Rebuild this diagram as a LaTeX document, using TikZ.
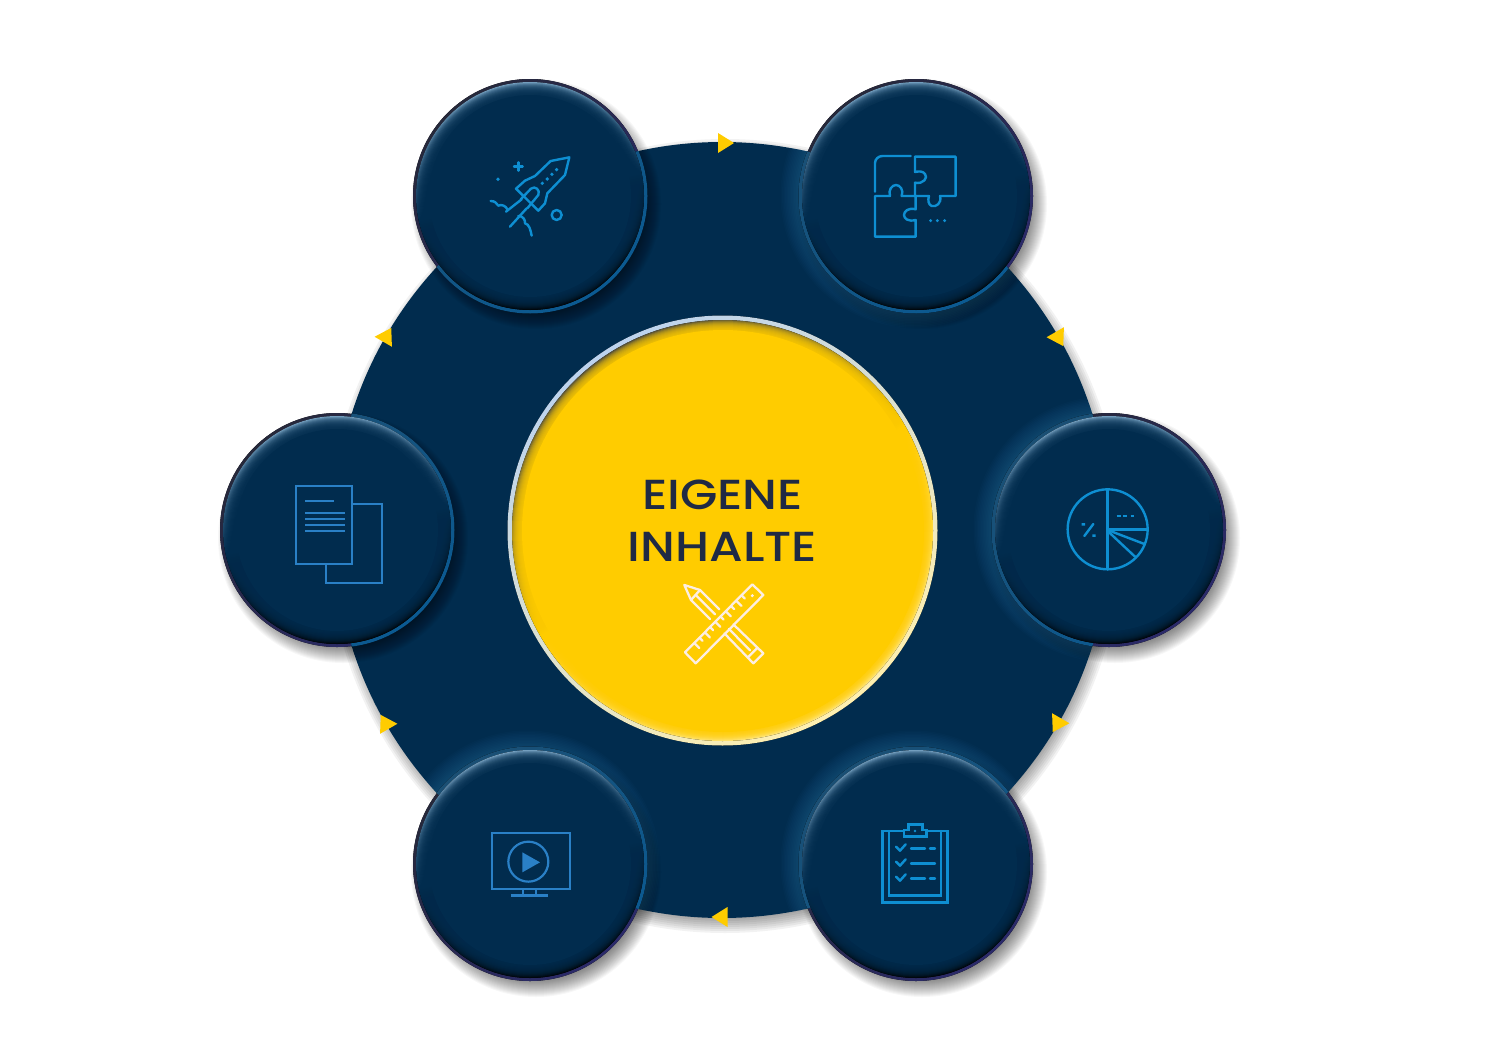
\documentclass[tikz,border=0pt]{standalone}
\usepackage{fontspec}
\newfontfamily\labelfont[FakeStretch=1.15]{Poppins Medium}
\definecolor{navy}{HTML}{012C4E}
\definecolor{sun}{HTML}{FFCC00}
\definecolor{inktext}{HTML}{1F2A44}
\definecolor{rimdark}{HTML}{26283A}
\definecolor{rimpurple}{HTML}{2B2A6A}
\definecolor{rimblue}{HTML}{0B5A92}
\definecolor{rimfaint}{HTML}{1A4F74}
\definecolor{glowblue}{HTML}{2A7FAE}
\definecolor{iconsky}{HTML}{0E8FD2}
\definecolor{iconblue}{HTML}{2A80C6}
\definecolor{chalk}{HTML}{FDEEE2}
\definecolor{HighTone}{HTML}{7DA8C8}
\definecolor{HubLight}{HTML}{BCD3EE}
\definecolor{HubWarm}{HTML}{FFF0B0}
\definecolor{HubShade}{HTML}{5A5438}
\definecolor{HubGlow}{HTML}{FFEC9A}
\tikzset{
  iconline/.style={draw=iconsky,line width=2.4pt,line cap=round,line join=round},
  iconflat/.style={draw=iconblue,line width=2.2pt,line cap=butt,line join=miter},
  chalkline/.style={draw=chalk,line width=2.3pt,line cap=round,line join=round},
  zoomed/.style={x=0.3333pt,y=-0.3333pt},
  marker/.style={fill=sun},
}
\newcommand{\softshadow}[5]{% cx cy r-start steps opacity
  \foreach \k in {0,...,#4}{\fill[black,fill opacity=#5] (#1,#2) circle [radius=#3+\k];}
}
\newcommand{\bigclip}{\clip (722,530) circle [radius=388];}
\newcommand{\discbody}[3]{% cx cy glow(0/1)
  \softshadow{#1+6}{#2+8}{101}{24}{0.03}
  \fill[top color=rimdark,bottom color=rimpurple,shading angle=45] (#1,#2) circle [radius=117];
  \begin{scope}
    \bigclip
    \ifnum#3=1
      \foreach \k in {0,...,11}{\fill[glowblue,even odd rule,fill opacity=0.035] (#1-3,#2-1) circle [radius=116+\k*1.5] (#1,#2) circle [radius=114];}
    \fi
    \fill[top color=rimfaint,bottom color=rimblue,shading angle=40] (#1,#2) circle [radius=117.5];
  \end{scope}
  \fill[top color=HighTone,bottom color=black!90!navy,middle color=navy,shading angle=12] (#1,#2) circle [radius=114];
  \foreach \k in {0,...,11}{\fill[navy,fill opacity=0.2] (#1,#2) circle [radius=113.5-\k];}
  \fill[navy] (#1,#2) circle [radius=101];
}
\newcommand{\marktip}[3]{%
  \fill[marker,shift={(#1,#2)},rotate=#3] (-5.5,-10) -- (10.5,0) -- (-5.5,10) -- cycle;
}
\begin{document}
\begin{tikzpicture}[x=1pt,y=-1pt]
\useasboundingbox (0,0) rectangle (1500,1060);
\fill[white] (0,0) rectangle (1500,1060);
% ring plate
\foreach \k in {0,...,9}{\fill[black,fill opacity=0.05] (725,536) circle [radius=379+\k*2];}
\fill[navy] (722,530) circle [radius=388];
% satellites
\discbody{530}{196}{0}
\discbody{916}{196}{1}
\discbody{1109}{530}{1}
\discbody{916}{864}{1}
\discbody{530}{864}{1}
\discbody{337}{530}{0}
% direction markers
\marktip{723.5}{143}{0}
\marktip{1058}{337}{-60}
\marktip{1058}{723}{-120}
\marktip{722}{917}{180}
\marktip{386}{724}{120}
\marktip{386}{337}{60}
% centre
\fill[top color=HubLight,bottom color=HubWarm,shading angle=35] (722.5,530.5) circle [radius=215];
\fill[top color=HubShade,bottom color=HubGlow,middle color=sun,shading angle=30] (722.5,530.5) circle [radius=210.5];
\foreach \k in {0,...,8}{\fill[sun,fill opacity=0.2] (723,531) circle [radius=210-\k];}
\fill[sun] (723,531) circle [radius=201];
\node[font=\labelfont\fontsize{42}{42}\selectfont,text=inktext,inner sep=0pt] (line1) at (722.5,494.5) {EIGENE};
\node[font=\labelfont\fontsize{42}{42}\selectfont,text=inktext,inner sep=0pt] (line2) at (722.5,546.5) {INHALTE};
% pencil and ruler
\begin{scope}[shift={(675,575)},zoomed]
  \draw[chalkline] (232,28) -- (265,60) -- (62,265) -- (30,232) -- cycle;
  \fill[chalk] (232,62) circle [radius=5];
  \foreach \a/\l in {0/1,1/0,2/1,3/0,4/1,5/0,6/1,7/0,8/1,9/0}{
    \pgfmathsetmacro{\tx}{58+\a*15.8}
    \pgfmathsetmacro{\ty}{204-\a*15.8}
    \pgfmathsetmacro{\ln}{\l==1?15:9}
    \draw[chalkline] (\tx,\ty) -- (\tx+\ln,\ty+\ln);
  }
  \draw[chalkline] (105,132) -- (48,75) -- (28,30) -- (75,45) -- (133,103);
  \draw[chalkline] (48,75) -- (75,45);
  \draw[chalkline] (62,60) -- (120,118);
  \draw[chalkline] (175,148) -- (265,235) -- (235,265) -- (148,175);
  \draw[chalkline] (162,162) -- (225,226);
  \draw[chalkline] (218,248) -- (248,218);
\end{scope}
% rocket
\begin{scope}[shift={(470,140)},zoomed]
  \draw[iconline] (298,52) -- (242,63) -- (195,108) -- (165,122) -- (138,146) -- (205,212) -- (225,190) -- (232,160) -- (285,105) -- cycle;
  \draw[iconline] (152,178) -- (183,146) .. controls (195,136) and (212,150) .. (205,165) -- (172,205);
  \draw[iconline] (108,215) -- (155,178);
  \draw[iconline] (120,260) -- (170,205);
  \draw[iconline] (62,183) .. controls (75,183) and (80,190) .. (85,197) .. controls (95,192) and (108,198) .. (112,208);
  \draw[iconline] (145,228) .. controls (160,228) and (166,240) .. (165,250) .. controls (178,252) and (182,272) .. (185,287);
  \foreach \p in {(217,130),(232,117),(246,103),(260,89),(84,118)}{\fill[iconsky] \p circle [radius=5.5];}
  \draw[iconline] (145,67) -- (145,92) (132,80) -- (158,80);
  \draw[iconline] (260,225) circle [radius=15];
\end{scope}
% puzzle
\begin{scope}[shift={(860,140)},zoomed]
  \draw[iconline] (45,155) -- (45,70) .. controls (45,57) and (55,48) .. (68,48) -- (152,48);
  \draw[iconline,line cap=butt] (165,168) -- (165,128) .. controls (190,134) and (205,112) .. (195,102) .. controls (188,92) and (175,94) .. (165,96) -- (165,50) -- (287,50) -- (287,168) -- (240,168) .. controls (246,190) and (228,202) .. (215,198) .. controls (205,194) and (203,180) .. (207,168) -- cycle;
  \draw[iconline,line cap=butt] (45,168) -- (90,168) .. controls (84,150) and (96,135) .. (108,135) .. controls (120,135) and (132,150) .. (125,168) -- (167,168) -- (167,208) .. controls (145,202) and (132,214) .. (132,225) .. controls (132,236) and (145,246) .. (167,240) -- (167,290) -- (45,290) -- cycle;
  \foreach \p in {(212,242),(232,242),(254,242)}{\fill[iconsky] \p circle [radius=5];}
\end{scope}
% pie
\begin{scope}[shift={(1055,475)},zoomed]
  \draw[iconline] (158,163) circle [radius=120];
  \draw[iconline] (158,45) -- (158,283);
  \draw[iconline] (158,163) -- (278,163);
  \draw[iconline] (158,165) -- (268,207);
  \draw[iconline] (158,168) -- (240,245);
  \draw[iconline,line cap=butt] (185,123) -- (197,123) (205,123) -- (217,123) (227,123) -- (238,123);
  \draw[iconline] (88,183) -- (115,147);
  \fill[iconsky] (80,144) rectangle (90,152) (112,178) rectangle (122,186);
\end{scope}
% clipboard
\begin{scope}[shift={(865,815)},zoomed]
  \draw[iconline,line join=miter] (117,48) -- (52,48) -- (52,263) -- (248,263) -- (248,48) -- (185,48);
  \draw[iconline,line join=miter] (72,48) -- (72,241) -- (228,241) -- (228,48);
  \draw[iconline,line join=miter] (117,65) -- (117,45) -- (130,45) -- (130,28) -- (172,28) -- (172,45) -- (185,45) -- (185,65) -- cycle;
  \fill[iconsky] (150,48) circle [radius=4];
  \foreach \y in {0,45,90}{
    \draw[iconline] (93,95+\y) -- (105,107+\y) -- (122,88+\y);
  }
  \draw[iconline] (138,100) -- (180,100) (195,100) -- (210,100);
  \draw[iconline] (138,145) -- (210,145);
  \draw[iconline] (138,190) -- (180,190) (195,190) -- (210,190);
\end{scope}
% monitor
\begin{scope}[shift={(480,820)},zoomed]
  \draw[iconflat] (35,40) rectangle (270,206);
  \draw[iconflat] (145,125) circle [radius=60];
  \fill[iconblue] (127,97) -- (180,127) -- (127,157) -- cycle;
  \draw[iconflat] (130,206) -- (130,222) (168,206) -- (168,222);
  \draw[iconflat,line width=3pt] (92,225) -- (205,225);
\end{scope}
% documents
\begin{scope}[shift={(285,475)},zoomed]
  \draw[iconflat] (33,33) rectangle (200,266);
  \draw[iconflat] (200,88) -- (290,88) -- (290,323) -- (123,323) -- (123,266);
  \draw[iconflat] (60,79) -- (148,79);
  \foreach \y in {114,131,151,169}{\draw[iconflat] (60,\y) -- (180,\y);}
\end{scope}
\end{tikzpicture}
\end{document}
